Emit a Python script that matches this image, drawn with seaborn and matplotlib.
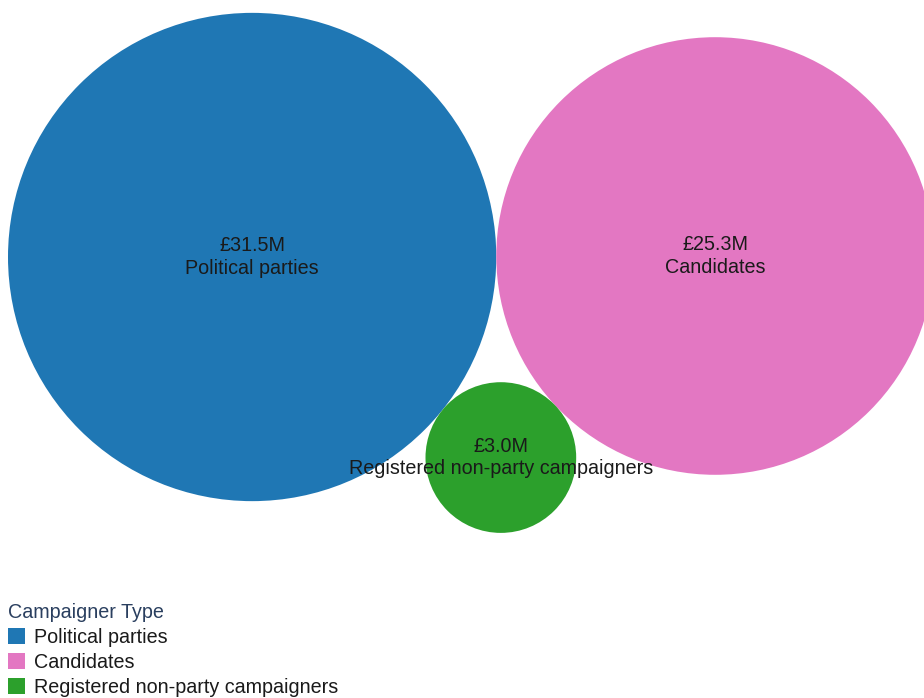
import numpy as np
import matplotlib
matplotlib.use("Agg")
import matplotlib.pyplot as plt
from matplotlib.patches import Circle, Patch
import seaborn as sns

categories = ["Political parties", "Candidates", "Registered non-party campaigners"]
values = [31.5, 25.3, 3.0]  # £ millions
value_labels = ["£31.5M", "£25.3M", "£3.0M"]
legend_title = "Campaigner Type"

sns.set_theme(style="white")
plt.rcParams["font.family"] = ["Liberation Sans", "DejaVu Sans"]
palette = sns.color_palette("tab10")
colors = [palette[0], palette[6], palette[2]]

W, H = 924, 698
fig = plt.figure(figsize=(W / 100, H / 100), dpi=100)
ax = fig.add_axes([0, 0, 1, 1])
ax.set_xlim(0, W)
ax.set_ylim(H, 0)
ax.set_aspect("equal")
ax.axis("off")

# area-proportional radii
k = 43.5
r = [k * np.sqrt(v) for v in values]

# packing layout: first two touching side by side, third tangent to both below
c0 = np.array([8 + r[0], 257.0])
c1 = np.array([c0[0] + r[0] + r[1], 256.0])
d01 = np.linalg.norm(c1 - c0)
d02 = r[0] + r[2]
d12 = r[1] + r[2]
a = (d02**2 - d12**2 + d01**2) / (2 * d01)
h = np.sqrt(d02**2 - a**2)
u = (c1 - c0) / d01
perp = np.array([-u[1], u[0]])
if perp[1] < 0:
    perp = -perp
c2 = c0 + a * u + h * perp
centers = [c0, c1, c2]

for c, rad, col in zip(centers, r, colors):
    ax.add_patch(Circle(c, rad, facecolor=col, edgecolor="none"))

FS = 14.2
for c, vl, cat in zip(centers, value_labels, categories):
    ax.text(c[0], c[1], f"{vl}\n{cat}", ha="center", va="center",
            fontsize=FS, color="#1a1a1a", linespacing=1.25)

handles = [Patch(facecolor=col, edgecolor="none") for col in colors]
leg = fig.legend(handles, categories, title=legend_title,
                 loc="lower left", bbox_to_anchor=(8 / W, 1 / H),
                 frameon=False, fontsize=FS, title_fontsize=FS,
                 handlelength=0.85, handleheight=0.85, handletextpad=0.45,
                 labelspacing=0.3, borderpad=0.0, borderaxespad=0.0,
                 alignment="left")
leg.get_title().set_color("#2a3f5f")
for t in leg.get_texts():
    t.set_color("#1a1a1a")

fig.savefig("out.png", dpi=100)
